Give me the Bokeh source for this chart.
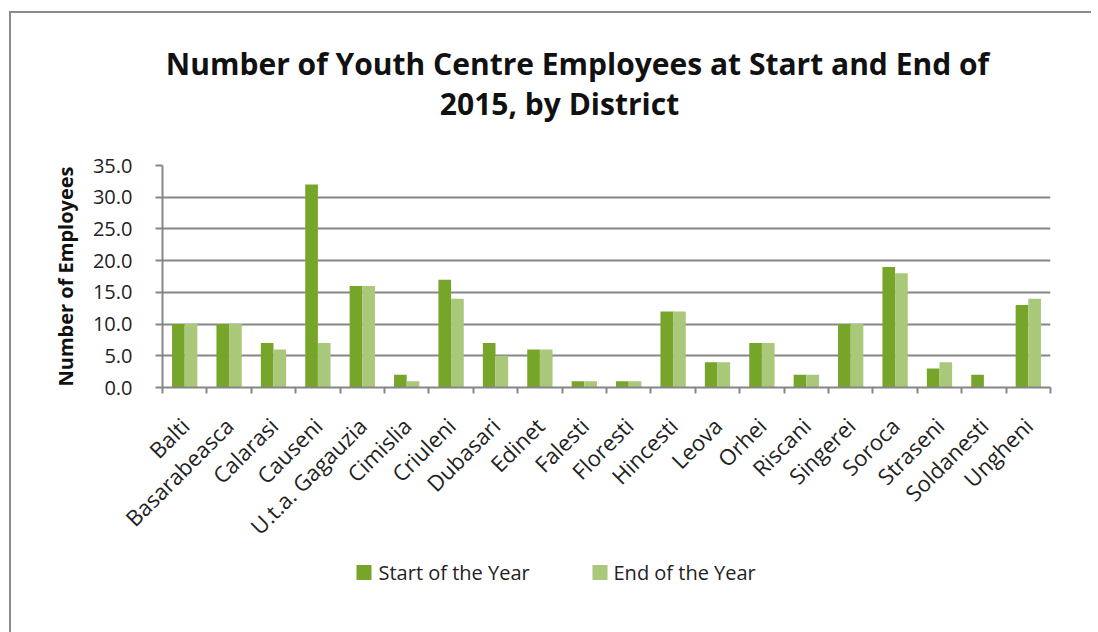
from bokeh.plotting import figure
from bokeh.layouts import column
from bokeh.models import (ColumnDataSource, Range1d, LinearAxis, FixedTicker,
                          Label, NumeralTickFormatter)
from bokeh.core.properties import value
from bokeh.transform import dodge
from bokeh.embed import file_html
from bokeh.resources import INLINE

districts = ["Balti", "Basarabeasca", "Calarasi", "Causeni", "U.t.a. Gagauzia", "Cimislia",
             "Criuleni", "Dubasari", "Edinet", "Falesti", "Floresti", "Hincesti", "Leova",
             "Orhei", "Riscani", "Singerei", "Soroca", "Straseni", "Soldanesti", "Ungheni"]
start_year = [10, 10, 7, 32, 16, 2, 17, 7, 6, 1, 1, 12, 4, 7, 2, 10, 19, 3, 2, 13]
end_year = [10, 10, 6, 7, 16, 1, 14, 5, 6, 1, 1, 12, 4, 7, 2, 10, 18, 4, 0, 14]
series_names = ["Start of the Year", "End of the Year"]
series_colors = ["#76a52a", "#a9c87a"]
y_ticks = [0, 5, 10, 15, 20, 25, 30, 35]
title_lines = ["Number of Youth Centre Employees at Start and End of", "2015, by District"]

FONT = "Open Sans"
GRID = "#868686"
W = 1080
LB, FW = 151, 888           # left border and frame width shared by all strips
RB = W - LB - FW
X0 = 162                    # page x of the frame's left edge
XR = (X0, X0 + FW)


def strip(h):
    f = figure(frame_width=FW, frame_height=h, x_range=Range1d(*XR), y_range=Range1d(0, h),
               min_border_left=LB, min_border_right=RB, min_border_top=0, min_border_bottom=0,
               output_backend="svg", toolbar_location=None,
               x_axis_location=None, y_axis_location=None)
    f.grid.visible = False
    f.outline_line_color = None
    f.background_fill_color = "white"
    f.border_fill_color = "white"
    return f


# ---- title strip ----
top = strip(140)
for txt, xx, yy in zip(title_lines, [577, 559], [90, 50]):
    top.add_layout(Label(x=xx, y=yy, text=txt, text_font=FONT, text_font_size="30px",
                         text_font_style="bold", text_color="#111111",
                         text_align="center", text_baseline="middle"))

# ---- main chart ----
n = len(districts)
centers = [i + 0.5 for i in range(n)]
src = ColumnDataSource(dict(x=centers, s=start_year, e=end_year))

p = figure(x_range=Range1d(0, n), y_range=Range1d(0, 35),
           frame_width=FW, frame_height=222,
           min_border_left=LB, min_border_right=RB, min_border_top=12, min_border_bottom=160,
           output_backend="svg", toolbar_location=None, x_axis_location=None)
p.outline_line_color = None
p.background_fill_color = "white"
p.border_fill_color = "white"

bw = 0.285
p.vbar(x=dodge("x", -bw / 2), top="s", width=bw, source=src,
       fill_color=series_colors[0], line_color=None)
p.vbar(x=dodge("x", bw / 2), top="e", width=bw, source=src,
       fill_color=series_colors[1], line_color=None)

p.xgrid.grid_line_color = None
p.ygrid.grid_line_color = GRID
p.ygrid.grid_line_width = 2
p.ygrid.ticker = FixedTicker(ticks=y_ticks)

ya = p.yaxis[0]
ya.ticker = FixedTicker(ticks=y_ticks)
ya.formatter = NumeralTickFormatter(format="0.0")
ya.axis_line_color = GRID
ya.axis_line_width = 2
ya.major_tick_line_color = GRID
ya.major_tick_line_width = 2
ya.major_tick_out = 7
ya.major_tick_in = 0
ya.minor_tick_line_color = None
ya.major_label_text_font = FONT
ya.major_label_text_font_size = "20px"
ya.major_label_text_color = "#222222"
ya.major_label_standoff = 23
ya.axis_label = "Number of Employees"
ya.axis_label_text_font = FONT
ya.axis_label_text_font_size = "20px"
ya.axis_label_text_font_style = "bold"
ya.axis_label_text_color = "#111111"
ya.axis_label_standoff = 11

tick_axis = LinearAxis(ticker=FixedTicker(ticks=list(range(n + 1))),
                       major_label_text_font_size="1px", major_label_text_color=None,
                       major_label_standoff=0,
                       axis_line_color=GRID, axis_line_width=2,
                       major_tick_line_color=GRID, major_tick_line_width=2,
                       major_tick_out=6, major_tick_in=0, minor_tick_line_color=None)
p.add_layout(tick_axis, "below")

label_axis = LinearAxis(ticker=FixedTicker(ticks=centers),
                        major_label_overrides={c: d for c, d in zip(centers, districts)},
                        axis_line_color=None, major_tick_line_color=None,
                        minor_tick_line_color=None, major_label_orientation=0.785398,
                        major_label_text_font=FONT, major_label_text_font_size="22px",
                        major_label_text_color="#222222", major_label_standoff=22)
p.add_layout(label_axis, "below")

# ---- legend strip ----
bot = strip(80)
leg_src = ColumnDataSource(dict(name=series_names, color=series_colors,
                                sx=[363.5, 599.5], tx=[378, 613], y=[61, 61]))
bot.scatter(x="sx", y="y", marker="square", size=15, fill_color="color", line_color=None,
            source=leg_src)
bot.text(x="tx", y="y", text="name", source=leg_src, text_font=value(FONT),
         text_font_size="20px", text_color="#222222", text_baseline="middle", text_align="left")

layout = column(top, p, bot, spacing=0)
layout.margin = (11, 0, 0, 9)
layout.styles = {"border-left": "2px solid #8a8a8a", "border-top": "2px solid #8a8a8a"}

open("out.html", "w").write(file_html(layout, INLINE))
